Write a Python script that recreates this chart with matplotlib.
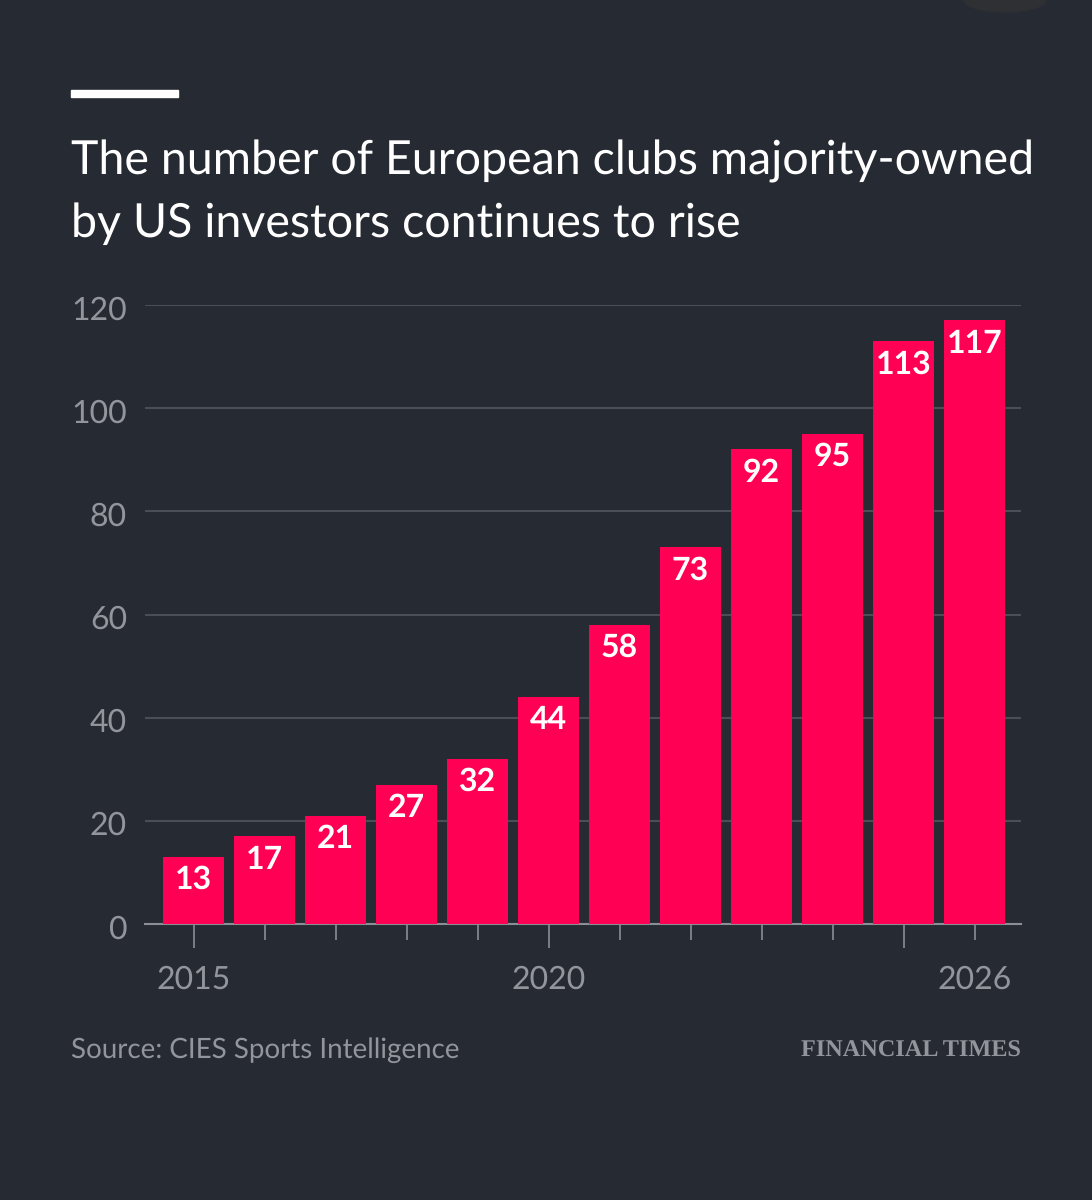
import matplotlib
matplotlib.use('Agg')
import matplotlib.pyplot as plt
from matplotlib.patches import Ellipse
from matplotlib.transforms import ScaledTranslation

# data
years = [2015, 2016, 2017, 2018, 2019, 2020, 2021, 2022, 2023, 2024, 2025, 2026]
clubs = [13, 17, 21, 27, 32, 44, 58, 73, 92, 95, 113, 117]
y_ticks = [0, 20, 40, 60, 80, 100, 120]
labelled_years = [2015, 2020, 2026]
long_tick_years = [2015, 2020, 2025]
title_lines = ["The number of European clubs majority-owned", "by US investors continues to rise"]
source = "Source: CIES Sports Intelligence"

BG = '#262a33'
BAR = '#ff0055'
GRID = '#4a4e57'
TICK = '#92959c'
AXIS = '#8a8d94'
W, H = 1092, 1200

plt.rcParams['font.family'] = ['Lato', 'DejaVu Sans']
plt.rcParams['text.hinting'] = 'none'

fig = plt.figure(figsize=(W / 100, H / 100), dpi=100, facecolor=BG)

# axes box in pixels: x 145-1021, y 305 (120) - 924 (0)
ax = fig.add_axes([145 / W, 1 - 924 / H, (1021 - 145) / W, (924 - 305) / H], facecolor=BG)
ax.set_ylim(0, 120)
ax.set_xlim(2015 - 48.5 / 71, 2026 + 46.5 / 71)

ax.bar(years, clubs, width=61 / 71, color=BAR, zorder=3)
for yr, val in zip(years, clubs):
    ax.annotate(str(val), (yr, val), xytext=(0, -23), textcoords='offset pixels',
                ha='center', va='center', color='white', fontsize=23, fontweight='bold', zorder=4)

ax.set_yticks(y_ticks)
ax.yaxis.grid(True, color=GRID, lw=1.5, zorder=1)
ax.set_axisbelow(True)
ax.tick_params(axis='y', length=0, pad=13, labelsize=23, labelcolor=TICK)
# y labels sit a little below their gridlines in the original
for lab in ax.get_yticklabels():
    lab.set_transform(lab.get_transform() + ScaledTranslation(0, -2.5 / 100, fig.dpi_scale_trans))

ax.set_xticks(years)
ax.set_xticklabels([str(y) if y in labelled_years else '' for y in years])
ax.tick_params(axis='x', length=16, width=1.2, color=AXIS, pad=13.5, labelsize=23, labelcolor=TICK)
for yr, tick in zip(years, ax.xaxis.get_major_ticks()):
    if yr in long_tick_years:
        tick.tick1line.set_markersize(24 * 72 / 100)
    else:
        tick.tick1line.set_markersize(16 * 72 / 100)

for s in ['top', 'left', 'right']:
    ax.spines[s].set_visible(False)
ax.spines['bottom'].set_color(AXIS)
ax.spines['bottom'].set_linewidth(1.5)

# header rule, title, footer
fig.add_artist(plt.Rectangle((71 / W, 1 - 97 / H), 107 / W, 7 / H, color='white', transform=fig.transFigure))
fig.add_artist(Ellipse((1005 / W, 1 - 0 / H), 82 / W, 24 / H, color='#2e3034', transform=fig.transFigure))
fig.text(71 / W, 1 - 174 / H, title_lines[0], color='white', fontsize=33.5, va='baseline', ha='left')
fig.text(71 / W, 1 - 237 / H, title_lines[1], color='white', fontsize=33.5, va='baseline', ha='left')
fig.text(71 / W, 1 - 1050 / H, source, color=TICK, fontsize=20, va='center', ha='left')
fig.text(1021 / W, 1 - 1051 / H, "FINANCIAL TIMES", color=TICK, fontsize=17.5, va='center', ha='right',
         family=['Liberation Serif', 'DejaVu Serif'], fontweight='bold')

fig.savefig('out.png', dpi=100, facecolor=BG)
